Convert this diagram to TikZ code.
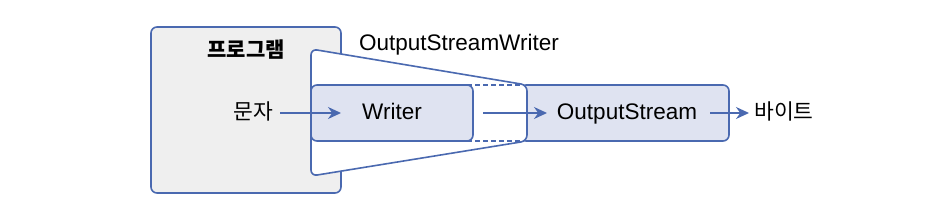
\documentclass[tikz,border=0pt]{standalone}
\usepackage{fontspec}
\setmainfont{Liberation Sans}
\newfontfamily\kr{Noto Sans CJK KR}
\usetikzlibrary{arrows.meta}
\definecolor{bl}{HTML}{4A69B0}
\definecolor{lb}{HTML}{DFE3F1}
\definecolor{gr}{HTML}{EFEFEF}
\begin{document}
\begin{tikzpicture}[x=1pt,y=-1pt,
  box/.style={draw=bl, line width=1.6pt, rounded corners=6pt},
  arr/.style={draw=bl, line width=1.4pt, -{Stealth[length=13pt,width=12pt]}},
  lbl/.style={inner sep=0pt, anchor=base, font=\fontsize{22.5}{26}\selectfont},
  klbl/.style={inner sep=0pt, anchor=base, font=\kr\fontsize{21.5}{25}\selectfont}]
\useasboundingbox (0,0) rectangle (948,224);
% program box
\draw[box, fill=gr] (151,27) rectangle (341,193);
\node[klbl, font=\kr\bfseries\fontsize{21}{25}\selectfont] (prog) at (246,58) {프로그램};
% OutputStream box
\draw[box, fill=lb] (520,85) rectangle (729,141);
% trapezoid
\draw[box, fill=white] (311,49) -- (527,85) -- (527,141) -- (311,176) -- cycle;
\node[lbl] (osw) at (459,51) {OutputStreamWriter};
% writer box
\draw[box, fill=lb] (311,85) rectangle (473,141);
\coordinate (wne) at (467,85);
\coordinate (wse) at (467,141);
\coordinate (dne) at (521,85);
\coordinate (dse) at (521,141);
\draw[bl, line width=1.6pt, dash pattern=on 5pt off 3pt] (wne) -- (dne);
\draw[bl, line width=1.6pt, dash pattern=on 5pt off 3pt] (wse) -- (dse);
% texts
\node[lbl] (writer) at (392,120) {Writer};
\node[lbl] (ostext) at (627,120) {OutputStream};
\node[klbl] (mun) at (253,120) {문자};
\node[klbl] (byte) at (784,120) {바이트};
% arrows
\coordinate (a1s) at (280,113);
\coordinate (a1e) at (341,113);
\coordinate (a2s) at (483,113);
\coordinate (a2e) at (547,113);
\coordinate (a3s) at (710,113);
\coordinate (a3e) at (749,113);
\draw[arr] (a1s) -- (a1e);
\draw[arr] (a2s) -- (a2e);
\draw[arr] (a3s) -- (a3e);
\end{tikzpicture}
\end{document}
